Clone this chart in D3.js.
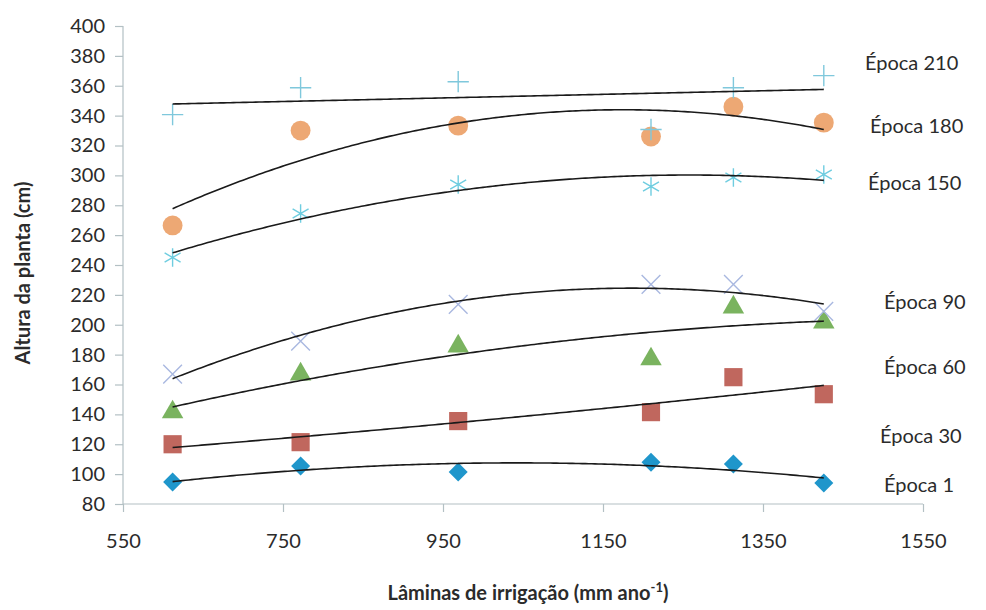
<!DOCTYPE html>
<html>
<head>
<meta charset="utf-8">
<script src="https://cdn.jsdelivr.net/npm/d3@7"></script>
<style>
  body { margin: 0; background: #fff; }
  svg text { font-family: Lato, "Open Sans", sans-serif; fill: #2b2b2b; }
</style>
</head>
<body>
<div id="chart"></div>
<script>
// --- data ---
const laminas = [612, 772, 969, 1210, 1313, 1426];

const epoca1   = [94.7, 105.4, 101.4, 108, 106.7, 94];
const epoca30  = [120, 121.4, 135.5, 141.5, 164.9, 153.5];
const epoca60  = [141.5, 166.9, 185.6, 177, 211.7, 201.7];
const epoca90  = [166.9, 189, 213.7, 227, 227, 209];
const epoca150 = [245, 274.5, 293.9, 292.6, 298.6, 300.6];
const epoca180 = [266.5, 330, 333.3, 326, 346, 335.3];
const epoca210 = [340.7, 358.7, 362.7, 330.7, 358.7, 366.8];

const serieNames = ["Época 1", "Época 30", "Época 60", "Época 90", "Época 150", "Época 180", "Época 210"];
const serieValues = [epoca1, epoca30, epoca60, epoca90, epoca150, epoca180, epoca210];
const trendDegree = [2, 2, 2, 2, 2, 2, 1];

const xTicks = [550, 750, 950, 1150, 1350, 1550];
const yTicks = d3.range(80, 401, 20);

// --- layout ---
const w = 986, h = 610;
const x0 = 123, x1 = 923, yTop = 26, yBot = 504;

const markerSymbol = [d3.symbolDiamond2, d3.symbolSquare, d3.symbolTriangle, d3.symbolX, d3.symbolAsterisk, d3.symbolCircle, d3.symbolPlus];
const markerColor = ["#1f96cb", "#c0675e", "#7ab35f", "#a9b8e0", "#6fcde0", "#eda874", "#7fc8dc"];
const markerSize = [230, 330, 200, 230, 240, 310, 150];
const labelY = [485, 436, 367, 302, 183, 126, 63];
const labelX = [884, 880, 884, 884, 868, 870, 865];

const xScale = d3.scaleLinear().domain([550, 1550]).range([x0, x1]);
const yScale = d3.scaleLinear().domain([80, 400]).range([yBot, yTop]);

const svg = d3.select("#chart").append("svg")
    .attr("width", w)
    .attr("height", h);

// least squares polynomial fit (trend line, as in the spreadsheet)
function polyfit(xs, ys, deg) {
  const n = deg + 1;
  const A = [];
  for (let i = 0; i < n; i++) {
    A.push(new Array(n + 1).fill(0));
  }
  xs.forEach(function (x, k) {
    for (let i = 0; i < n; i++) {
      for (let j = 0; j < n; j++) A[i][j] += Math.pow(x, i + j);
      A[i][n] += ys[k] * Math.pow(x, i);
    }
  });
  // gauss elimination
  for (let i = 0; i < n; i++) {
    for (let r = i + 1; r < n; r++) {
      const f = A[r][i] / A[i][i];
      for (let c = i; c <= n; c++) A[r][c] -= f * A[i][c];
    }
  }
  const coef = new Array(n).fill(0);
  for (let i = n - 1; i >= 0; i--) {
    let s = A[i][n];
    for (let j = i + 1; j < n; j++) s -= A[i][j] * coef[j];
    coef[i] = s / A[i][i];
  }
  return function (x) {
    let v = 0;
    for (let i = 0; i < n; i++) v += coef[i] * Math.pow(x, i);
    return v;
  };
}

// axes
const yAxis = d3.axisLeft(yScale).tickValues(yTicks).tickSize(8).tickPadding(10);
const gy = svg.append("g")
    .attr("transform", "translate(" + x0 + ",0)")
    .call(yAxis);
gy.selectAll("text").attr("font-size", "20px").style("font-family", "Lato, sans-serif");

const xAxis = d3.axisBottom(xScale).tickValues(xTicks).tickFormat(d3.format("d")).tickSize(8).tickPadding(22);
const gx = svg.append("g")
    .attr("transform", "translate(0," + yBot + ")")
    .call(xAxis);
gx.selectAll("text").attr("font-size", "20px").style("font-family", "Lato, sans-serif");

svg.selectAll(".domain, .tick line").attr("stroke", "#b3c0c4").attr("stroke-width", 1.2);
gx.select(".domain").attr("d", "M" + x0 + ",0H" + x1);
gy.select(".domain").attr("d", "M0," + yBot + "V" + yTop);

// markers
serieValues.forEach(function (vals, s) {
  const g = svg.append("g");
  const isLine = markerSymbol[s] === d3.symbolX || markerSymbol[s] === d3.symbolAsterisk || markerSymbol[s] === d3.symbolPlus;
  g.selectAll("path")
    .data(vals)
    .enter()
    .append("path")
    .attr("transform", function (d, i) { return "translate(" + xScale(laminas[i]) + "," + yScale(d) + ")"; })
    .attr("d", d3.symbol().type(markerSymbol[s]).size(markerSize[s]))
    .attr("fill", isLine ? "none" : markerColor[s])
    .attr("stroke", isLine ? markerColor[s] : "none")
    .attr("stroke-width", isLine ? 1.4 : 0);
});

// trend lines
serieValues.forEach(function (vals, s) {
  const f = polyfit(laminas, vals, trendDegree[s]);
  const xs = d3.range(laminas[0], laminas[laminas.length - 1] + 1, 4);
  xs.push(laminas[laminas.length - 1]);
  svg.append("path")
    .datum(xs)
    .attr("fill", "none")
    .attr("stroke", "#1a1a1a")
    .attr("stroke-width", 1.6)
    .attr("d", d3.line()
      .x(function (d) { return xScale(d); })
      .y(function (d) { return yScale(f(d)); }));
});

// series labels
svg.selectAll(".lab")
  .data(serieNames)
  .enter()
  .append("text")
  .attr("class", "lab")
  .attr("x", function (d, i) { return labelX[i]; })
  .attr("y", function (d, i) { return labelY[i]; })
  .attr("dy", "0.35em")
  .attr("font-size", "20px")
  .text(function (d) { return d; });

// axis titles
svg.append("text")
  .attr("transform", "translate(30," + ((yTop + yBot) / 2 + 8) + ") rotate(-90)")
  .attr("text-anchor", "middle")
  .attr("font-size", "20px")
  .attr("font-weight", "bold")
  .text("Altura da planta (cm)");

const xt = svg.append("text")
  .attr("x", (x0 + x1) / 2 + 5)
  .attr("y", 600)
  .attr("text-anchor", "middle")
  .attr("font-size", "20px")
  .attr("font-weight", "bold");
xt.append("tspan").text("Lâminas de irrigação (mm ano");
xt.append("tspan").attr("font-size", "13px").attr("dy", "-8").text("-1");
xt.append("tspan").attr("dy", "8").text(")");
</script>
</body>
</html>
